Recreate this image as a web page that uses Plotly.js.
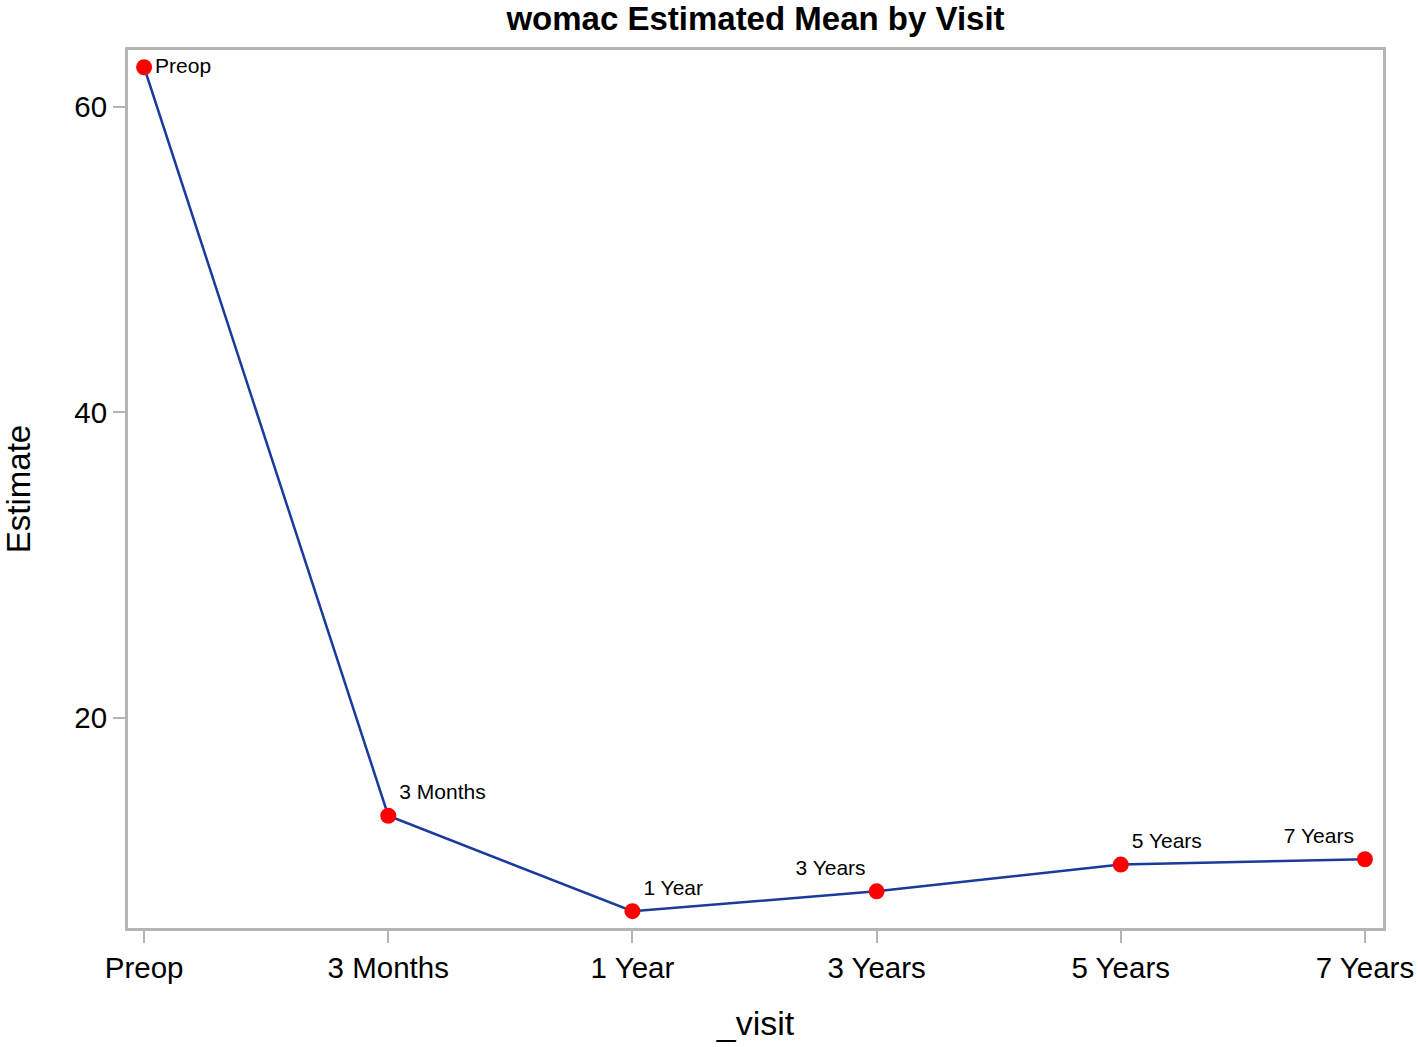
<!DOCTYPE html>
<html>
<head>
<meta charset="utf-8">
<script src="https://cdn.plot.ly/plotly-3.0.1.min.js"></script>
<style>html,body{margin:0;padding:0;background:#fff;}#chart{width:1418px;height:1047px;}</style>
</head>
<body>
<div id="chart"></div>
<script>
const visits = ["Preop", "3 Months", "1 Year", "3 Years", "5 Years", "7 Years"];
const estimates = [62.6, 13.6, 7.35, 8.65, 10.4, 10.75];
const pointLabels = ["Preop", "3 Months", "1 Year", "3 Years", "5 Years", "7 Years"];
const labelPositions = ["middle right", "top right", "top right", "top left", "top right", "top left"];
const yTicks = [20, 40, 60];

const trace = {
  x: visits,
  y: estimates,
  type: "scatter",
  mode: "lines+markers+text",
  text: pointLabels,
  textposition: labelPositions,
  textfont: {family: "Liberation Sans, Arial, sans-serif", size: 21, color: "#000"},
  line: {color: "#1a3a9c", width: 2.5},
  marker: {color: "#ff0000", size: 16},
  cliponaxis: false,
  hoverinfo: "x+y"
};

const axisFont = {family: "Liberation Sans, Arial, sans-serif", size: 29.5, color: "#000"};

const layout = {
  width: 1418,
  height: 1047,
  margin: {l: 128, r: 35, t: 50, b: 119},
  paper_bgcolor: "#fff",
  plot_bgcolor: "#fff",
  showlegend: false,
  title: {
    text: "<b>womac Estimated Mean by Visit</b>",
    font: {family: "Liberation Sans, Arial, sans-serif", size: 33, color: "#000"},
    x: 0.5, xref: "paper", xanchor: "center",
    y: 0.982, yref: "container", yanchor: "middle"
  },
  xaxis: {
    type: "category",
    categoryarray: visits,
    range: [-0.066, 5.074],
    showgrid: false,
    zeroline: false,
    showline: true,
    mirror: true,
    linecolor: "#b4b4b4",
    linewidth: 3,
    ticks: "outside",
    ticklen: 12,
    tickwidth: 2,
    tickcolor: "#b4b4b4",
    tickfont: axisFont,
    title: {text: "_visit", font: {family: "Liberation Sans, Arial, sans-serif", size: 34, color: "#000"}, standoff: 28}
  },
  yaxis: {
    range: [6.25, 63.73],
    tickvals: yTicks,
    ticktext: yTicks.map(String),
    showgrid: false,
    zeroline: false,
    showline: true,
    mirror: true,
    linecolor: "#b4b4b4",
    linewidth: 3,
    ticks: "outside",
    ticklen: 12,
    tickwidth: 2,
    tickcolor: "#b4b4b4",
    tickfont: axisFont,
    title: {text: "Estimate", font: {family: "Liberation Sans, Arial, sans-serif", size: 33, color: "#000"}, standoff: 40}
  }
};

Plotly.newPlot("chart", [trace], layout, {displayModeBar: false, staticPlot: true});
</script>
</body>
</html>
